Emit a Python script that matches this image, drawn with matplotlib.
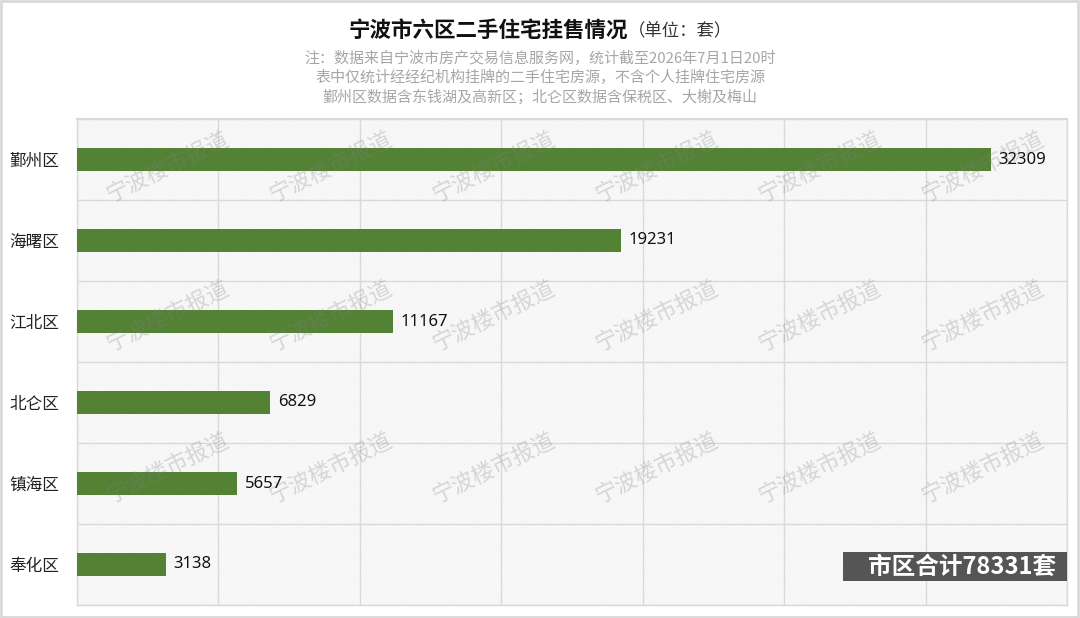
import matplotlib
matplotlib.use("Agg")
import matplotlib.pyplot as plt
from matplotlib.patches import Rectangle
from matplotlib.ticker import MultipleLocator, FixedLocator

plt.rcParams['font.family'] = ['Noto Sans CJK SC', 'DejaVu Sans']
plt.rcParams['hatch.linewidth'] = 0.5

# data
districts = ['鄞州区', '海曙区', '江北区', '北仑区', '镇海区', '奉化区']
listings = [32309, 19231, 11167, 6829, 5657, 3138]
total_text = '市区合计78331套'

title = '宁波市六区二手住宅挂售情况'
unit = '（单位：套）'
notes = ['注：数据来自宁波市房产交易信息服务网，统计截至2026年7月1日20时',
         '表中仅统计经经纪机构挂牌的二手住宅房源，不含个人挂牌住宅房源',
         '鄞州区数据含东钱湖及高新区；北仑区数据含保税区、大榭及梅山']
watermark = '宁波楼市报道'

W, H = 1080, 618
fig = plt.figure(figsize=(W / 100, H / 100), dpi=100)
fig.patch.set_facecolor('white')

# plot area in pixels: x 77..1067, y 119..605
ax = fig.add_axes([77 / W, 1 - 605 / H, 990 / W, 486 / H])
ax.set_facecolor('white')

# hatched background
ax.add_patch(Rectangle((0, 0), 1, 1, transform=ax.transAxes, facecolor='white',
                       edgecolor='#ececec', hatch='\\' * 14, linewidth=0, zorder=0))

ypos = list(range(len(districts)))
ax.barh(ypos, listings, height=0.29, color='#548235', zorder=3)
ax.set_xlim(0, 35000)
ax.set_ylim(len(districts) - 0.5, -0.5)

for y, v in zip(ypos, listings):
    ax.text(v + 280, y, str(v), va='center', ha='left', fontsize=12,
            family=['Noto Sans', 'DejaVu Sans'], color='#111111', zorder=5)

# grid
ax.xaxis.set_major_locator(MultipleLocator(5000))
ax.yaxis.set_major_locator(FixedLocator(ypos))
ax.yaxis.set_minor_locator(FixedLocator([i - 0.5 for i in range(len(districts) + 1)]))
ax.grid(axis='x', which='major', color='#d9d9d9', linewidth=1, zorder=1)
ax.grid(axis='y', which='minor', color='#d9d9d9', linewidth=1, zorder=1)
ax.set_axisbelow(True)
ax.tick_params(axis='x', length=0, labelbottom=False)
ax.tick_params(axis='y', which='both', length=0, pad=13)
ax.set_yticklabels(districts, fontsize=12, color='#222222')
for s in ax.spines.values():
    s.set_color('#d9d9d9')
    s.set_linewidth(1)
ax.spines['top'].set_linewidth(1.5)

# watermarks
for py in [167, 316, 468]:
    for i in range(6):
        px = 167 + 163 * i
        ax.text((px - 77) / 990, (605 - py) / 486, watermark, transform=ax.transAxes,
                rotation=26, ha='center', va='center', fontsize=16, color='#808080',
                alpha=0.28, zorder=4, clip_on=True)

# total box
ax.add_patch(Rectangle(((843 - 77) / 990, (605 - 581) / 486), (1067 - 843) / 990, 29 / 486,
                       transform=ax.transAxes, facecolor='#555555', edgecolor='none',
                       zorder=6, clip_on=False))
ax.text((962 - 77) / 990, (605 - 566.5) / 486, total_text, transform=ax.transAxes,
        ha='center', va='center', fontsize=17, fontweight='bold', color='white', zorder=7)

# titles
fig.text(628 / W, 1 - 30 / H, title, ha='right', va='center', fontsize=15.5,
         fontweight='bold', color='#111111')
fig.text(628 / W, 1 - 31 / H, unit, ha='left', va='center', fontsize=12.5, color='#333333')
for k, line in enumerate(notes):
    fig.text(540 / W, 1 - (58 + 19.5 * k) / H, line, ha='center', va='center',
             fontsize=10.8, color='#a6a6a6')

# figure frame
fig.add_artist(Rectangle((0.001, 0.002), 0.997, 0.996, transform=fig.transFigure,
                         facecolor='none', edgecolor='#d9d9d9', linewidth=2))

fig.savefig('out.png', dpi=100, facecolor='white')
